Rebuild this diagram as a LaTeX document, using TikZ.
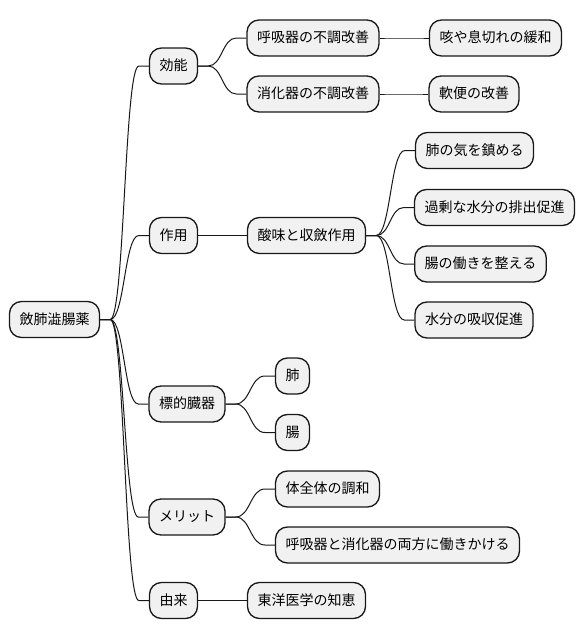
\documentclass[tikz,border=0pt]{standalone}
\usepackage{fontspec}
\setmainfont{Noto Sans CJK JP}
\usetikzlibrary{calc}
\definecolor{mmfill}{HTML}{F1F1F1}
\definecolor{mmline}{HTML}{181818}
\tikzset{
    mmnode/.style={rectangle, rounded corners=9pt, fill=mmfill, draw=mmline, line width=1pt, minimum height=27pt, inner xsep=7.5pt, inner ysep=0pt, text height=9pt, text depth=1.8pt, font=\fontsize{10.5pt}{12pt}\selectfont},
    mmedge/.style={draw=mmline, line width=0.75pt, to path={let \p1=(\tikztostart), \p2=(\tikztotarget), \n1={(\x1+\x2)/2} in -- (\x1+7.5pt,\y1) .. controls (\n1,\y1) and (\n1,\y2) .. (\x2-7.5pt,\y2) -- (\p2)}}
}

\begin{document}
\begin{tikzpicture}[x=0.75pt, y=-0.75pt]
    \useasboundingbox (0,0) rectangle (586,640);

    \node[mmnode] (root) at (54.5,319.5) {斂肺澁腸薬};

    % Level 1
    \node[mmnode] (koka) at (173.5,66) {効能};
    \node[mmnode] (sayo) at (173.5,235.5) {作用};
    \node[mmnode] (hyoteki) at (187,404) {標的臓器};
    \node[mmnode] (merit) at (187,517) {メリット};
    \node[mmnode] (yurai) at (173.5,600.5) {由来};

    % Level 2
    \node[mmnode] (kokyu) at (313,38) {呼吸器の不調改善};
    \node[mmnode] (shoka) at (313,94) {消化器の不調改善};
    \node[mmnode] (sanmi) at (306.5,235.5) {酸味と収斂作用};
    \node[mmnode] (hai) at (292.5,376) {肺};
    \node[mmnode] (cho) at (292.5,432.5) {腸};
    \node[mmnode] (chowa) at (327.5,489) {体全体の調和};
    \node[mmnode] (ryoho) at (397.5,545) {呼吸器と消化器の両方に働きかける};
    \node[mmnode] (chie) at (306.5,600.5) {東洋医学の知恵};

    % Level 3
    \node[mmnode] (seki) at (495.5,38) {咳や息切れの緩和};
    \node[mmnode] (nanben) at (474,94) {軟便の改善};
    \node[mmnode] (shizume) at (474.5,150.5) {肺の気を鎮める};
    \node[mmnode] (haishutsu) at (494.5,207.5) {過剰な水分の排出促進};
    \node[mmnode] (totonoe) at (480.5,264) {腸の働きを整える};
    \node[mmnode] (kyushu) at (474,320) {水分の吸収促進};

    % Links from the root
    \draw[mmedge] (root.east) to (koka.west);
    \draw[mmedge] (root.east) to (sayo.west);
    \draw[mmedge] (root.east) to (hyoteki.west);
    \draw[mmedge] (root.east) to (merit.west);
    \draw[mmedge] (root.east) to (yurai.west);

    % Links to level 2
    \draw[mmedge] (koka.east) to (kokyu.west);
    \draw[mmedge] (koka.east) to (shoka.west);
    \draw[mmedge] (sayo.east) to (sanmi.west);
    \draw[mmedge] (hyoteki.east) to (hai.west);
    \draw[mmedge] (hyoteki.east) to (cho.west);
    \draw[mmedge] (merit.east) to (chowa.west);
    \draw[mmedge] (merit.east) to (ryoho.west);
    \draw[mmedge] (yurai.east) to (chie.west);

    % Links to level 3
    \draw[mmedge] (kokyu.east) to (seki.west);
    \draw[mmedge] (shoka.east) to (nanben.west);
    \draw[mmedge] (sanmi.east) to (shizume.west);
    \draw[mmedge] (sanmi.east) to (haishutsu.west);
    \draw[mmedge] (sanmi.east) to (totonoe.west);
    \draw[mmedge] (sanmi.east) to (kyushu.west);
\end{tikzpicture}
\end{document}
